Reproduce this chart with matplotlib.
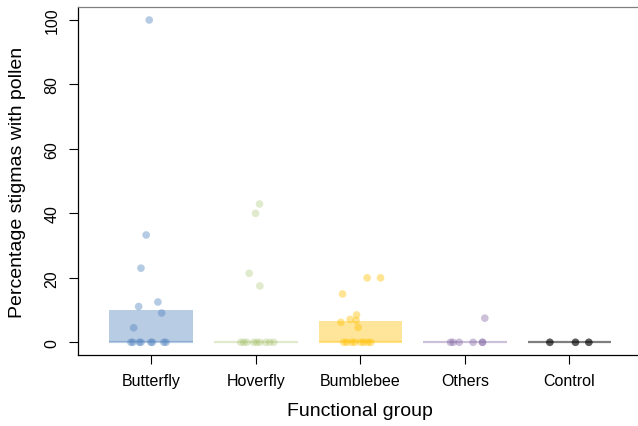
import matplotlib
matplotlib.use("Agg")
import matplotlib.pyplot as plt
import numpy as np

plt.rcParams['font.family'] = ['Liberation Sans', 'DejaVu Sans']

# Functional groups and summary bar heights (percent)
groups = ["Butterfly", "Hoverfly", "Bumblebee", "Others", "Control"]
bar_heights = [10.0, 0.0, 6.6, 0.0, 0.0]
medians = [0.0, 0.0, 0.0, 0.0, 0.0]

# Per-flower observations: percentage of stigmas with pollen
butterfly_vals = [100, 33.3, 23.0, 12.5, 11.1, 9.1, 4.5, 0, 0, 0, 0, 0, 0, 0, 0]
hoverfly_vals = [42.9, 40.0, 21.4, 17.5, 0, 0, 0, 0, 0, 0, 0, 0, 0]
bumblebee_vals = [20, 20, 15, 8.5, 7.1, 6.8, 6.2, 4.6, 0, 0, 0, 0, 0, 0, 0, 0]
others_vals = [7.5, 0, 0, 0, 0, 0, 0]
control_vals = [0, 0, 0, 0, 0, 0]

# Horizontal jitter of each observation around its group position
butterfly_jit = [-0.019, -0.048, -0.098, 0.064, -0.12, 0.10, -0.168,
                 -0.194, -0.175, -0.113, -0.098, -0.003, 0.011, 0.121, 0.141]
hoverfly_jit = [0.036, -0.002, -0.063, 0.039,
                -0.143, -0.115, -0.086, -0.019, 0.01, 0.038, 0.096, 0.134, 0.172]
bumblebee_jit = [0.065, 0.193, -0.17, -0.036, -0.098, -0.04, -0.186, -0.021,
                 -0.158, -0.129, -0.081, -0.053, 0.005, 0.033, 0.072, 0.10]
others_jit = [0.19, -0.138, -0.113, -0.055, 0.078, 0.168, 0.168]
control_jit = [-0.188, -0.188, 0.057, 0.057, 0.185, 0.185]

values = [butterfly_vals, hoverfly_vals, bumblebee_vals, others_vals, control_vals]
jitters = [butterfly_jit, hoverfly_jit, bumblebee_jit, others_jit, control_jit]
colors = ["#4F81BD", "#9BBB59", "#FFC000", "#8064A2", "#000000"]
bar_alphas = [0.4, 0.3, 0.4, 0.4, 0.5]
pt_alphas = [0.42, 0.3, 0.42, 0.4, 0.4]

fig = plt.figure(figsize=(6.38, 4.27), dpi=100)
ax = fig.add_axes([78 / 638, (427 - 356.2) / 427, (642.7 - 78) / 638, (356.2 - 8.1) / 427])

pos = np.arange(1, len(groups) + 1)
for i, g in enumerate(groups):
    ax.bar(pos[i], bar_heights[i], width=0.8, color=colors[i], alpha=bar_alphas[i],
           edgecolor="none", zorder=1)
    ax.hlines(medians[i], pos[i] - 0.4, pos[i] + 0.4, color=colors[i],
              alpha=bar_alphas[i], lw=1.6, zorder=2)
    ax.scatter(pos[i] + np.array(jitters[i]), values[i], s=30, color=colors[i],
               alpha=pt_alphas[i], edgecolors="none", zorder=3)

ax.set_xlim(0.3, 5.7)
ax.set_ylim(-4, 104)
ax.set_xticks(pos)
ax.set_xticklabels(groups, fontsize=11.5)
ax.set_yticks([0, 20, 40, 60, 80, 100])
ax.set_yticklabels(["0", "20", "40", "60", "80", "100"], fontsize=11.5,
                   rotation=90, va="center")
ax.tick_params(axis="both", direction="out", length=6.5, width=0.8)
ax.tick_params(axis="x", pad=6.5)
ax.tick_params(axis="y", pad=7)
for s in ax.spines.values():
    s.set_linewidth(0.9)
ax.spines["top"].set_color("#808080")

ax.set_xlabel("Functional group", fontsize=14, labelpad=10)
ax.set_ylabel("Percentage stigmas with pollen", fontsize=14, labelpad=13)

fig.savefig("out.png", dpi=100)
